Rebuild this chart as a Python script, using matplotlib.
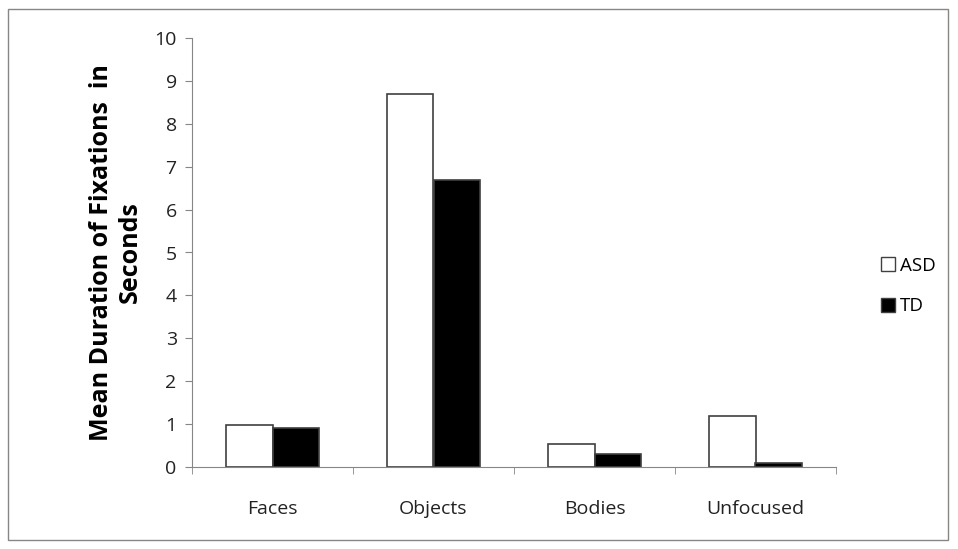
import matplotlib
matplotlib.use("Agg")
import matplotlib.pyplot as plt
from matplotlib.patches import Rectangle, Patch
import numpy as np

categories = ["Faces", "Objects", "Bodies", "Unfocused"]
asd = [0.97, 8.7, 0.53, 1.2]
td = [0.92, 6.7, 0.31, 0.09]
series_names = ["ASD", "TD"]

plt.rcParams['font.family'] = ['Open Sans', 'DejaVu Sans']
AXIS_GRAY = '#868686'

fig = plt.figure(figsize=(9.58, 5.49), dpi=100)
ax = fig.add_axes([192/958, 82/549, 644/958, 429/549])

# outer chart border
fig.patches.append(Rectangle((8/958, 9/549), 940/958, 531/549, transform=fig.transFigure,
                             fill=False, edgecolor=AXIS_GRAY, linewidth=1))

x = np.arange(len(categories))
w = 0.29
ax.bar(x - w/2, asd, w, color='white', edgecolor='#404040', linewidth=1.2, label=series_names[0])
ax.bar(x + w/2, td, w, color='black', edgecolor='#404040', linewidth=1.2, label=series_names[1])

ax.set_xlim(-0.5, len(categories) - 0.5)
ax.set_ylim(0, 10)
ax.set_yticks(range(0, 11))
ax.set_xticks(x)
ax.set_xticklabels(categories, fontsize=14)
ax.tick_params(axis='x', length=0, pad=24, colors='#222222')
ax.set_xticks(np.arange(-0.5, len(categories)), minor=True)
ax.tick_params(axis='x', which='minor', length=5, color=AXIS_GRAY)
ax.tick_params(axis='y', labelsize=14, length=5, color=AXIS_GRAY, labelcolor='#222222', pad=6)

for s in ['top', 'right']:
    ax.spines[s].set_visible(False)
for s in ['left', 'bottom']:
    ax.spines[s].set_color(AXIS_GRAY)

ax.set_ylabel("Mean Duration of Fixations  in\nSeconds", fontsize=18, fontweight='bold', labelpad=8)

handles = [Patch(facecolor='white', edgecolor='#404040'), Patch(facecolor='black', edgecolor='#404040')]
fig.legend(handles, series_names, loc='center left', bbox_to_anchor=(864/958, 1 - 286/549),
           frameon=False, fontsize=13.5, handlelength=0.75, handleheight=0.75, handletextpad=0.25,
           labelspacing=1.2)

fig.savefig("out.png", dpi=100)
